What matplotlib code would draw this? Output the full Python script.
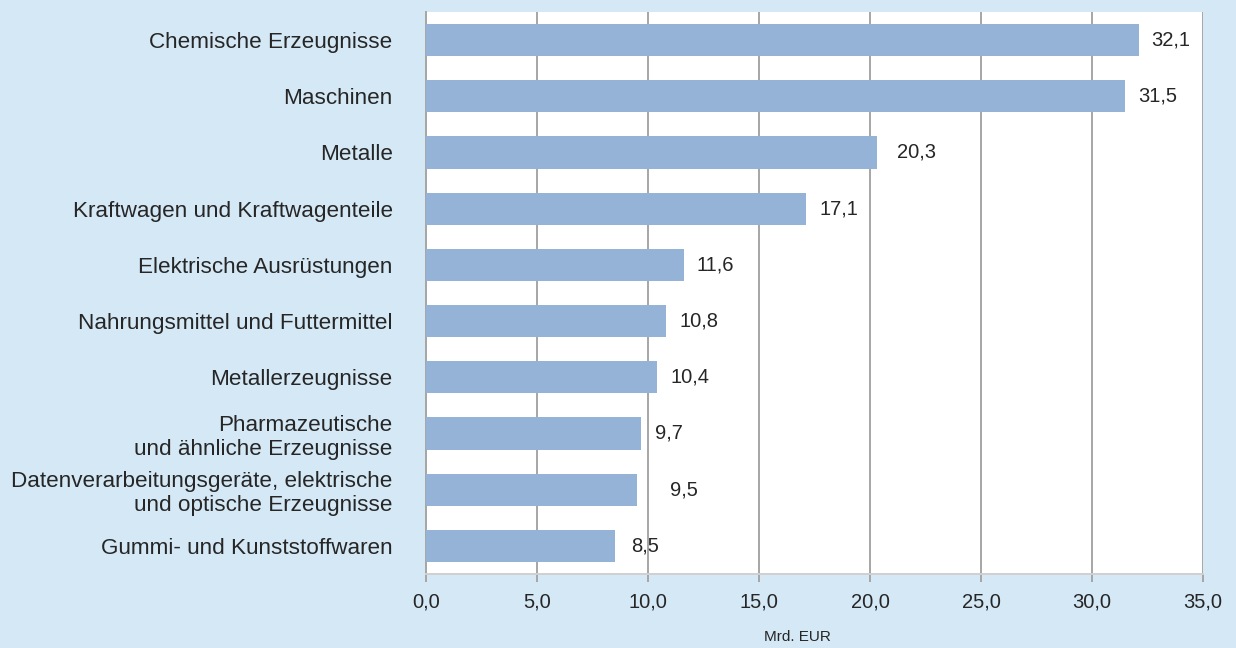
import matplotlib
matplotlib.use("Agg")
import matplotlib.pyplot as plt
from matplotlib.ticker import FuncFormatter, MultipleLocator

plt.rcParams['font.family'] = ['Liberation Sans', 'DejaVu Sans']

categories = [
    "Chemische Erzeugnisse",
    "Maschinen",
    "Metalle",
    "Kraftwagen und Kraftwagenteile",
    "Elektrische Ausrüstungen",
    "Nahrungsmittel und Futtermittel",
    "Metallerzeugnisse",
    "Pharmazeutische\nund ähnliche Erzeugnisse",
    "Datenverarbeitungsgeräte, elektrische\nund optische Erzeugnisse",
    "Gummi- und Kunststoffwaren",
]
values = [32.1, 31.5, 20.3, 17.1, 11.6, 10.8, 10.4, 9.7, 9.5, 8.5]
# horizontal gap (points) between bar end and its value label
label_offsets = [9, 9, 15, 10, 9, 10, 10, 10, 24, 12]

bg = "#D5E8F6"
bar_color = "#95B3D7"
grid_color = "#A6A6A6"
text_color = "#262626"

fig = plt.figure(figsize=(12.36, 6.48), dpi=100, facecolor=bg)
ax = fig.add_axes([426 / 1236, 1 - 574 / 648, (1203 - 426) / 1236, (574 - 12) / 648])
ax.set_facecolor("white")

y = list(range(len(categories)))
ax.barh(y, values, height=0.57, color=bar_color, zorder=3)

for yi, v, off in zip(y, values, label_offsets):
    ax.annotate(f"{v:.1f}".replace(".", ","), xy=(v, yi), xytext=(off, 0),
                textcoords="offset points", va="center", ha="left",
                fontsize=14.5, color=text_color)

ax.set_xlim(0, 35)
ax.set_ylim(len(categories) - 0.5, -0.5)
ax.xaxis.set_major_locator(MultipleLocator(5))
ax.xaxis.set_major_formatter(FuncFormatter(lambda x, _: f"{x:.1f}".replace(".", ",")))
ax.grid(axis="x", color=grid_color, linewidth=1.4, zorder=0)
ax.set_axisbelow(True)

ax.set_yticks(y)
ax.set_yticklabels(categories, fontsize=16.2, color=text_color, linespacing=1.2)
ax.tick_params(axis="y", length=0, pad=24)
ax.tick_params(axis="x", length=6, width=1.4, color=grid_color, labelsize=14.5,
               labelcolor=text_color, pad=7)

for side in ("top", "right"):
    ax.spines[side].set_visible(False)
ax.spines["left"].set_color(grid_color)
ax.spines["left"].set_linewidth(1.4)
ax.spines["bottom"].set_color("#D0D0D0")
ax.spines["bottom"].set_linewidth(1.4)

fig.text(797 / 1236, 1 - 637 / 648, "Mrd. EUR", ha="center", va="center",
         fontsize=11, color=text_color)

fig.savefig("out.png", dpi=100, facecolor=bg)
